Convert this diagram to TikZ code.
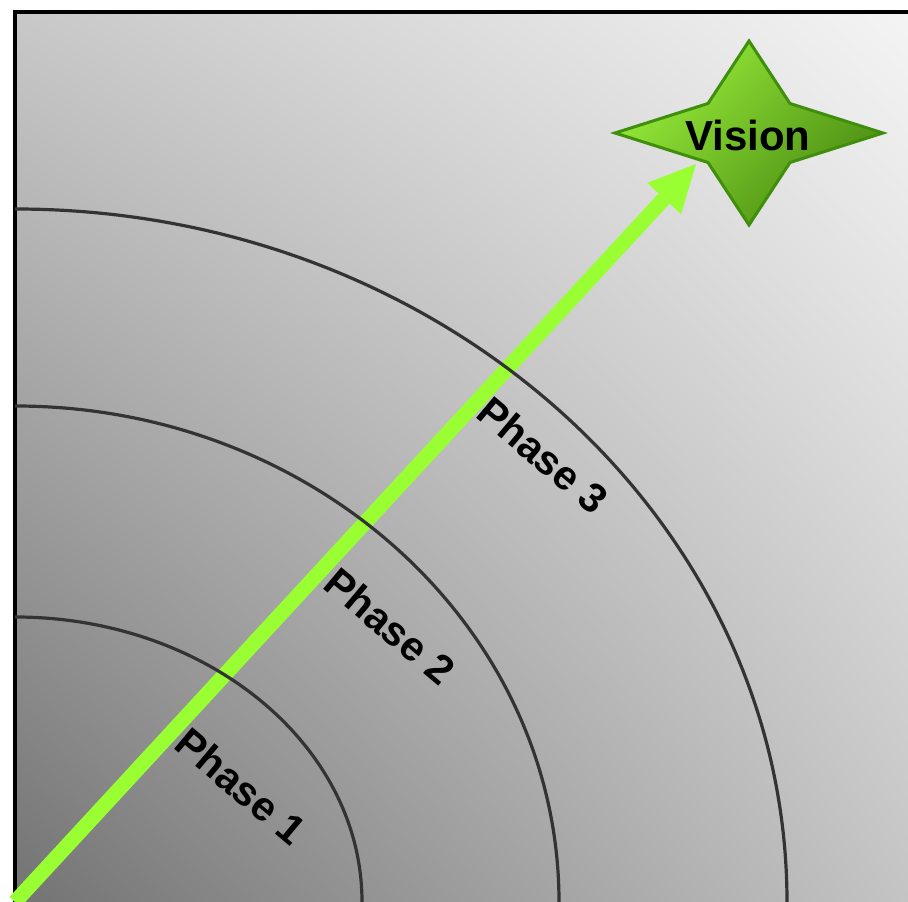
\documentclass[tikz,border=0pt]{standalone}
\usepackage{fontspec}
\setmainfont{Liberation Sans}
\usetikzlibrary{arrows.meta,shadings}
\definecolor{arcgray}{HTML}{333333}
\definecolor{limegreen}{HTML}{99FF33}
\definecolor{starlight}{HTML}{98EC3A}
\definecolor{stardark}{HTML}{4A8C12}
\definecolor{starline}{HTML}{3F8E0C}
\definecolor{bgul}{HTML}{C8C8C8}
\definecolor{bgur}{HTML}{F4F4F4}
\definecolor{bgll}{HTML}{737373}
\definecolor{bglr}{HTML}{C4C4C4}
\begin{document}
\begin{tikzpicture}[x=1pt,y=1pt,
  frame/.style={line width=4pt, black, line join=miter},
  phasearc/.style={line width=3.2pt, arcgray},
  growth/.style={line width=15pt, limegreen, -{Triangle[length=47pt,width=46pt,line width=0pt]}},
  phaselabel/.style={font=\bfseries\fontsize{41}{41}\selectfont, rotate=-40, inner sep=0pt},
  visionlabel/.style={font=\bfseries\fontsize{42}{42}\selectfont, inner sep=0pt},
  starshape/.style={draw=starline, line width=3pt, line join=miter, top color=starlight, bottom color=stardark, shading angle=45}]
\useasboundingbox (0,0) rectangle (908,902);
\fill[white] (0,0) rectangle (908,902);
\begin{scope}
\clip (0,0) rectangle (908,902);
\shade[upper left=bgul, upper right=bgur, lower left=bgll, lower right=bglr] (15,0) rectangle (908,890);
\draw[frame] (15,0) -- (15,890) -- (908,890);
\coordinate (origin) at (15,0);
\coordinate (tip) at (696,738);
\draw[growth] (origin) -- (tip);
\draw[phasearc] (15,285) arc[start angle=90, end angle=0, x radius=347, y radius=285];
\draw[phasearc] (15,496) arc[start angle=90, end angle=0, x radius=544, y radius=496];
\draw[phasearc] (15,693) arc[start angle=90, end angle=0, x radius=772, y radius=693];
\end{scope}
\path[starshape, shift={(749,769)}] (134,0) -- (41,29.5) -- (0,92) -- (-41,29.5) -- (-134,0) -- (-41,-29.5) -- (0,-92) -- (41,-29.5) -- cycle;
\node[visionlabel] (vision) at (748,767) {Vision};
\node[phaselabel] (p1) at (241,116) {Phase 1};
\node[phaselabel] (p2) at (390,276) {Phase 2};
\node[phaselabel] (p3) at (543,447) {Phase 3};
\end{tikzpicture}
\end{document}
